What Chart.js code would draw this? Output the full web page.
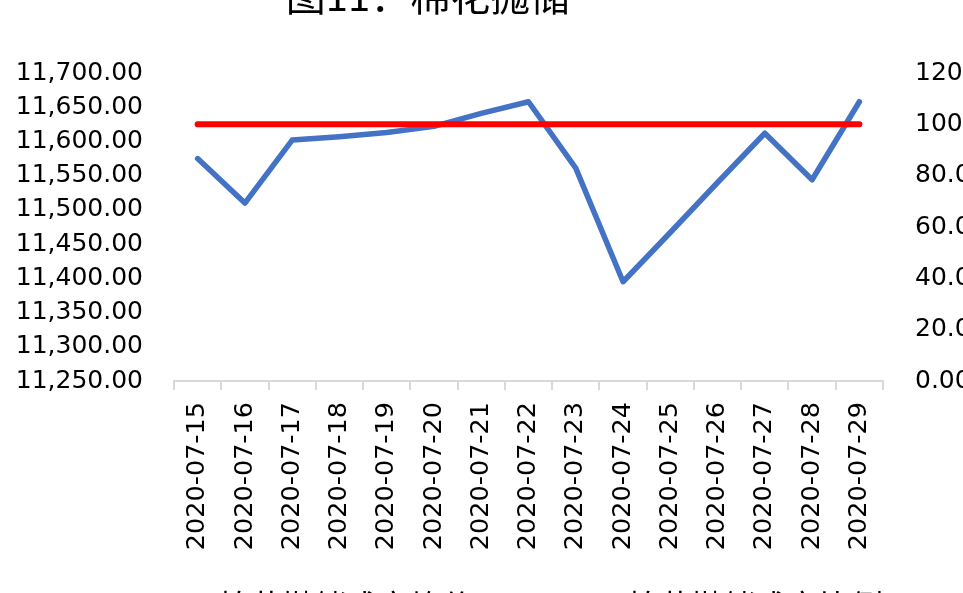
<!DOCTYPE html>
<html>
<head>
<meta charset="utf-8">
<script src="https://cdn.jsdelivr.net/npm/chart.js@4.4.1/dist/chart.umd.min.js"></script>
<style>
  html, body { margin: 0; padding: 0; background: #fff; overflow: hidden; }
  #wrap { position: relative; width: 983px; height: 632px; }
</style>
</head>
<body>
<div id="wrap"><canvas id="chart" width="983" height="632"></canvas></div>
<script>
// ---------------------- Data ----------------------
const titleText = "图11：棉花抛储";
const dates = [
  "2020-07-15", "2020-07-16", "2020-07-17", "2020-07-18", "2020-07-19",
  "2020-07-20", "2020-07-21", "2020-07-22", "2020-07-23", "2020-07-24",
  "2020-07-25", "2020-07-26", "2020-07-27", "2020-07-28", "2020-07-29"
];
const avgPrice = [11575, 11510, 11602, 11607, 11613, 11622, 11641, 11658, 11561, 11395, 11467, 11540, 11612, 11544, 11658];
const dealRatio = [100, 100, 100, 100, 100, 100, 100, 100, 100, 100, 100, 100, 100, 100, 100];
const leftTicks = [11250, 11300, 11350, 11400, 11450, 11500, 11550, 11600, 11650, 11700];
const rightTicks = [0, 20, 40, 60, 80, 100, 120];
const seriesNames = ["棉花抛储成交均价", "棉花抛储成交比例"];

// ---------------------- Style ----------------------
const latinFont = "'DejaVu Sans', sans-serif";
const cjkFont = "'Noto Sans CJK SC', sans-serif";
const axisGray = "#D9D9D9";

// title sits above the visible window, only its lower part shows
const cutTitle = {
  id: "cutTitle",
  afterDraw(chart) {
    const ctx = chart.ctx;
    ctx.save();
    ctx.font = "40px " + cjkFont;
    ctx.fillStyle = "#000";
    ctx.textAlign = "center";
    ctx.textBaseline = "alphabetic";
    ctx.fillText(titleText, 428, 11);
    ctx.restore();
  }
};

new Chart(document.getElementById("chart"), {
  type: "line",
  data: {
    labels: dates,
    datasets: [
      {
        label: seriesNames[0],
        data: avgPrice,
        yAxisID: "y",
        borderColor: "#4472C4",
        backgroundColor: "#4472C4",
        borderWidth: 5.5,
        borderCapStyle: "round",
        borderJoinStyle: "round",
        pointRadius: 0,
        tension: 0,
        order: 1
      },
      {
        label: seriesNames[1],
        data: dealRatio,
        yAxisID: "y1",
        borderColor: "#FF0000",
        backgroundColor: "#FF0000",
        borderWidth: 6,
        borderCapStyle: "round",
        borderJoinStyle: "round",
        pointRadius: 0,
        tension: 0,
        order: 0
      }
    ]
  },
  options: {
    responsive: false,
    animation: false,
    layout: { padding: { top: 73, left: 0, right: 0, bottom: 0 } },
    plugins: {
      legend: {
        position: "bottom",
        labels: {
          font: { family: cjkFont, size: 32 },
          color: "#000",
          boxWidth: 102,
          boxHeight: 6,
          padding: 35,
          sort: (a, b) => a.datasetIndex - b.datasetIndex
        }
      },
      tooltip: { enabled: false },
      title: { display: false }
    },
    scales: {
      x: {
        offset: true,
        grid: {
          offset: true,
          drawOnChartArea: false,
          drawTicks: true,
          tickLength: 9,
          color: axisGray,
          lineWidth: 2
        },
        border: { display: true, color: axisGray, width: 2 },
        ticks: {
          font: { family: latinFont, size: 25.5 },
          color: "#000",
          minRotation: 90,
          maxRotation: 90,
          autoSkip: false,
          padding: 12
        },
        afterFit: s => { s.height = 174; }
      },
      y: {
        position: "left",
        min: 11250,
        max: 11700,
        grid: { display: false, drawTicks: false },
        border: { display: false },
        ticks: {
          font: { family: latinFont, size: 25 },
          color: "#000",
          padding: 31,
          callback: v => v.toLocaleString("en-US", { minimumFractionDigits: 2, maximumFractionDigits: 2 })
        },
        afterBuildTicks: s => { s.ticks = leftTicks.map(v => ({ value: v })); },
        afterFit: s => { s.width = 174; }
      },
      y1: {
        position: "right",
        min: 0,
        max: 120,
        grid: { display: false, drawTicks: false },
        border: { display: false },
        ticks: {
          font: { family: latinFont, size: 25 },
          color: "#000",
          padding: 32,
          callback: v => v.toFixed(2)
        },
        afterBuildTicks: s => { s.ticks = rightTicks.map(v => ({ value: v })); },
        afterFit: s => { s.width = 100; }
      }
    }
  },
  plugins: [cutTitle]
});
</script>
</body>
</html>
